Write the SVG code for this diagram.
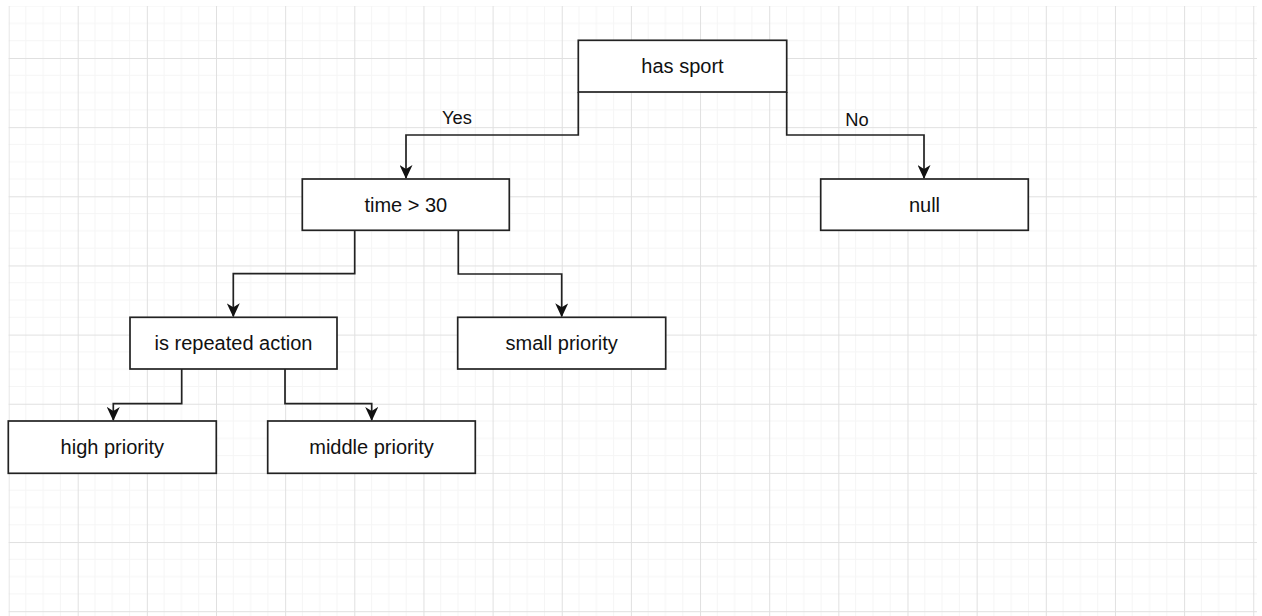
<svg xmlns="http://www.w3.org/2000/svg" width="1262" height="616" viewBox="0 0 1262 616">
<style>
.box{fill:#ffffff;stroke:#222222;stroke-width:1.7}
.lbl{font-family:"Liberation Sans",Arial,sans-serif;font-size:20px;fill:#111111;text-anchor:middle}
.elbl{font-family:"Liberation Sans",Arial,sans-serif;font-size:18.3px;fill:#111111;text-anchor:middle}
.edge{fill:none;stroke:#222222;stroke-width:1.7;marker-end:url(#arr)}
</style>
<defs>
<pattern id="grid" patternUnits="userSpaceOnUse" x="8.55" y="-11.15" width="69.15" height="69.15">
<path d="M17.29,0V69.15M34.58,0V69.15M51.86,0V69.15M0,17.29H69.15M0,34.58H69.15M0,51.86H69.15" stroke="#f5f5f5" stroke-width="1" fill="none"/>
<path d="M0.5,0V69.15M0,0.5H69.15" stroke="#e0e0e0" stroke-width="1" fill="none"/>
</pattern>
<marker id="arr" markerUnits="userSpaceOnUse" viewBox="0 0 14 13" refX="13" refY="6.5" markerWidth="14" markerHeight="13" orient="auto">
<path d="M0,0 L14,6.5 L0,13 L4,6.5 Z" fill="#111111"/>
</marker>
</defs>
<rect x="0" y="0" width="1262" height="616" fill="#ffffff"/>
<rect x="8.5" y="6" width="1248.5" height="610" fill="url(#grid)"/>
<g id="connectors">
<path class="edge" d="M578.3,92 V135 H406 V178"/>
<path class="edge" d="M786.7,92 V135 H924 V178"/>
<path class="edge" d="M354.7,230.3 V273.7 H233.3 V316.3"/>
<path class="edge" d="M458.3,230.3 V274 H561.7 V316.3"/>
<path class="edge" d="M181.7,369 V403.7 H113.3 V420"/>
<path class="edge" d="M285,369 V403.7 H371.7 V420"/>
<text class="elbl" x="457" y="124">Yes</text>
<text class="elbl" x="857" y="126">No</text>
</g>
<g id="has-sport">
<rect class="box" x="578.3" y="40.3" width="208.4" height="51.7"/>
<text class="lbl" x="682.5" y="73">has sport</text>
</g>
<g id="time-30">
<rect class="box" x="302.3" y="179" width="207" height="51.3"/>
<text class="lbl" x="405.8" y="211.5">time &gt; 30</text>
</g>
<g id="null">
<rect class="box" x="820.7" y="179" width="207.6" height="51.3"/>
<text class="lbl" x="924.5" y="211.5">null</text>
</g>
<g id="is-repeated-action">
<rect class="box" x="130" y="317.3" width="207" height="51.7"/>
<text class="lbl" x="233.5" y="350">is repeated action</text>
</g>
<g id="small-priority">
<rect class="box" x="457.7" y="317.3" width="208" height="51.7"/>
<text class="lbl" x="561.7" y="350">small priority</text>
</g>
<g id="high-priority">
<rect class="box" x="8.3" y="421" width="208" height="52.3"/>
<text class="lbl" x="112.3" y="454">high priority</text>
</g>
<g id="middle-priority">
<rect class="box" x="267.7" y="421" width="207.6" height="52.3"/>
<text class="lbl" x="371.5" y="454">middle priority</text>
</g>
</svg>
